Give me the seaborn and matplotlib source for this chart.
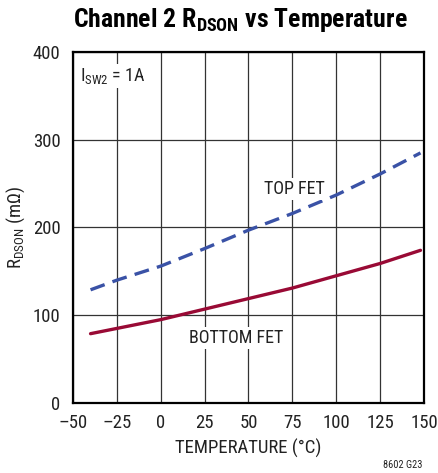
import matplotlib
matplotlib.use("Agg")
import matplotlib.pyplot as plt
import seaborn as sns
import pandas as pd

temp = [-40, -25, 0, 25, 50, 75, 100, 125, 148]
top_fet = [129, 140, 156, 176, 197, 216, 237, 261, 285]
bottom_fet = [79, 85, 95, 107, 119, 131, 145, 159, 174]
x_ticks = [-50, -25, 0, 25, 50, 75, 100, 125, 150]
x_tick_labels = ["–50", "–25", "0", "25", "50", "75", "100", "125", "150"]
y_ticks = [0, 100, 200, 300, 400]

FAM = ['Roboto Condensed', 'Archivo Narrow', 'DejaVu Sans']
sns.set_style("white")
plt.rcParams['font.family'] = FAM
plt.rcParams['mathtext.fontset'] = 'custom'
plt.rcParams['mathtext.rm'] = 'Roboto Condensed'
plt.rcParams['mathtext.bf'] = 'Roboto Condensed:bold'
plt.rcParams['mathtext.default'] = 'rm'

fig = plt.figure(figsize=(4.39, 4.73), dpi=100)
ax = fig.add_axes([73/439, 1-403/473, 351/439, 351/473])

df = pd.DataFrame({"T": temp, "top": top_fet, "bottom": bottom_fet})
sns.lineplot(data=df, x="T", y="top", ax=ax, color="#3a52a6", linewidth=2.4,
             linestyle=(0, (4.5, 2.5)), zorder=3)
sns.lineplot(data=df, x="T", y="bottom", ax=ax, color="#990a35", linewidth=2.4, zorder=3)

ax.set_xlim(-50, 150)
ax.set_ylim(0, 400)
ax.set_xticks(x_ticks)
ax.set_xticklabels(x_tick_labels)
ax.set_yticks(y_ticks)
ax.grid(True, color="#333333", linewidth=0.9)
ax.set_axisbelow(True)
for s in ax.spines.values():
    s.set_visible(True)
    s.set_color("black")
    s.set_linewidth(1.6)
ax.tick_params(axis="both", length=0, labelsize=13.5, colors="#222222")
ax.tick_params(axis="x", pad=8)
ax.tick_params(axis="y", pad=9)

ax.set_xlabel("TEMPERATURE (°C)", fontsize=13.5, color="#222222", labelpad=5)
ax.set_ylabel("R$_{DSON}$ (mΩ)", fontsize=13.5, color="#222222", labelpad=4)

fig.text(240/439, 1 - 20/473, "Channel 2 R$_{\\mathbf{DSON}}$ vs Temperature",
         ha="center", va="center", fontsize=18.5, fontweight="bold", color="black",
         family=['Roboto Condensed', 'Fira Sans Condensed', 'DejaVu Sans'])

bbox = dict(facecolor="white", edgecolor="none", pad=1.5)
ax.text(-46, 373, "I$_{SW2}$ = 1A", fontsize=13, color="#222222", ha="left", va="center", bbox=bbox, zorder=4)
ax.text(76, 244, "TOP FET", fontsize=13, color="#222222", ha="center", va="center", bbox=bbox, zorder=4)
ax.text(43, 74, "BOTTOM FET", fontsize=13, color="#222222", ha="center", va="center", bbox=bbox, zorder=4)

fig.text(403/439, 1 - 465/473, "8602 G23", fontsize=7.5, color="#222222", ha="center", va="center")

fig.savefig("out.png", dpi=100)
